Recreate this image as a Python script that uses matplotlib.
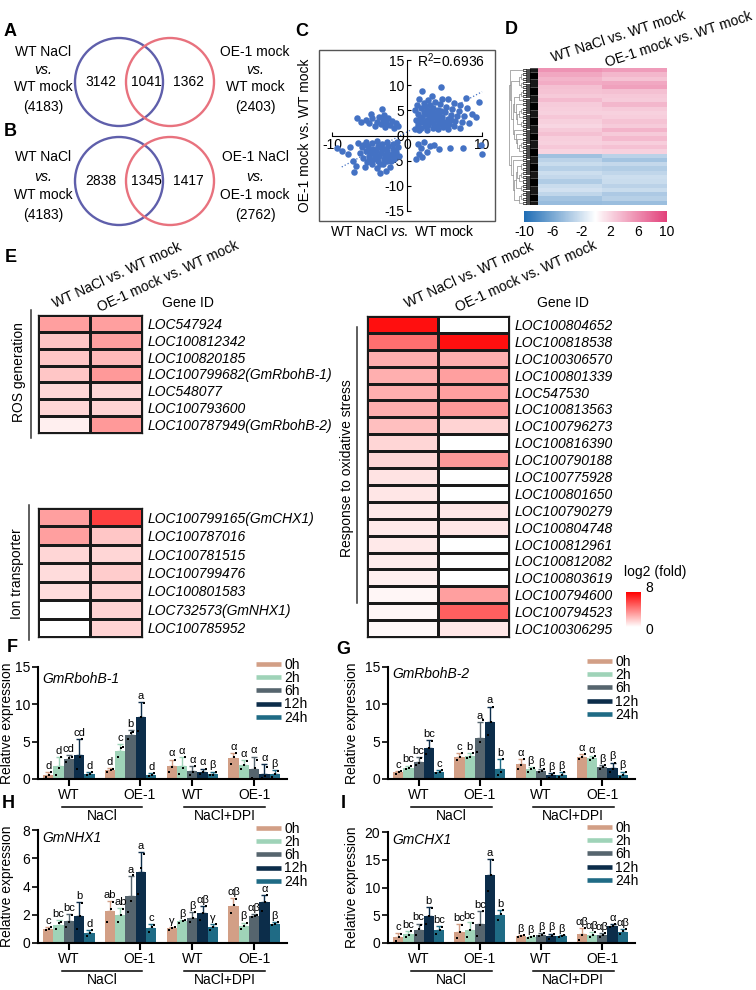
"""Multi-panel figure: Venn overlaps (A, B), fold-change scatter (C), clustered
heatmap (D), gene heatmaps (E) and qRT-PCR time courses (F-I).

Everything is placed in pixel coordinates of a 756x990 canvas (dpi 100).
"""

import matplotlib

matplotlib.use("Agg")
import matplotlib.pyplot as plt
import numpy as np
from matplotlib.cm import ScalarMappable
from matplotlib.colors import LinearSegmentedColormap, Normalize
from matplotlib.lines import Line2D
from matplotlib.patches import Circle, Rectangle
from matplotlib.transforms import blended_transform_factory

plt.rcParams["font.family"] = ["Liberation Sans", "DejaVu Sans"]
plt.rcParams["font.size"] = 10
plt.rcParams["axes.unicode_minus"] = False
plt.rcParams["mathtext.fontset"] = "custom"
plt.rcParams["mathtext.rm"] = "Liberation Sans"
plt.rcParams["mathtext.it"] = "Liberation Sans:italic"

W, H = 756, 990

# ---------------------------------------------------------------- data
# A / B: Venn counts (left only, shared, right only) and set totals
venn_a_counts = [3142, 1041, 1362]
venn_a_totals = [4183, 2403]
venn_a_sets = [("WT NaCl", "WT mock"), ("OE-1 mock", "WT mock")]
venn_b_counts = [2838, 1345, 1417]
venn_b_totals = [4183, 2762]
venn_b_sets = [("WT NaCl", "WT mock"), ("OE-1 NaCl", "OE-1 mock")]

# C: log2 fold change pairs (WT NaCl vs WT mock, OE-1 mock vs WT mock)
pts_up_right = [
    (1.1, 1.2), (1.5, 2.0), (1.2, 3.1), (1.4, 4.2), (1.1, 5.0), (1.3, 6.0), (1.6, 7.2),
    (1.9, 1.4), (2.1, 2.6), (2.0, 3.6), (2.2, 4.6), (1.9, 5.5), (2.3, 6.4), (2.0, 8.8),
    (2.7, 1.1), (2.8, 2.1), (2.6, 3.0), (2.9, 4.0), (2.7, 5.1), (3.0, 6.0), (2.8, 7.0),
    (3.4, 1.5), (3.5, 2.5), (3.3, 3.4), (3.6, 4.5), (3.4, 5.5), (3.7, 6.6), (3.3, 7.8),
    (4.1, 1.2), (4.2, 2.2), (4.0, 3.1), (4.3, 4.0), (4.1, 5.0), (4.4, 6.2), (4.6, 7.2),
    (4.5, 9.6), (4.8, 1.6), (4.9, 2.7), (4.7, 3.6), (5.0, 4.6), (5.2, 5.6), (5.5, 7.3),
    (5.5, 1.3), (5.6, 2.3), (5.4, 3.2), (5.8, 4.1), (6.0, 5.2), (6.3, 6.4), (6.2, 1.8),
    (6.4, 2.9), (6.6, 3.8), (6.9, 4.8), (7.1, 6.1), (7.0, 1.4), (7.3, 2.6), (7.6, 3.9),
    (8.0, 5.4), (8.6, 4.3), (8.3, 2.5), (9.2, 3.6), (9.6, 6.7), (7.8, 7.5),
    (1.6, 1.1), (2.4, 1.8), (3.1, 2.9), (3.9, 3.8), (4.5, 4.8), (2.4, 5.8), (1.7, 3.5),
    (3.1, 4.9), (4.4, 2.6), (5.1, 2.0), (5.9, 3.1), (3.8, 1.9), (1.5, 2.6), (2.5, 4.3),
]
pts_up_left = [
    (-6.6, 3.5), (-6.1, 2.6), (-5.5, 3.0), (-5.0, 2.4), (-4.6, 3.4), (-4.3, 1.8), (-4.0, 2.7),
    (-3.7, 3.6), (-3.5, 2.2), (-3.2, 3.1), (-3.3, 5.3), (-2.9, 1.6), (-2.8, 2.6), (-2.5, 3.4),
    (-2.3, 2.0), (-2.0, 2.9), (-1.7, 1.4), (-1.5, 2.4), (-1.2, 1.8), (-4.8, 4.2), (-3.0, 4.1),
]
pts_low_left = [
    (-6.5, -1.4), (-6.0, -2.3), (-6.3, -3.4), (-5.8, -4.5), (-5.5, -1.2), (-5.2, -2.1),
    (-5.4, -3.0), (-5.1, -4.0), (-5.3, -5.2), (-5.6, -6.2), (-4.7, -1.5), (-4.5, -2.6),
    (-4.8, -3.5), (-4.4, -4.6), (-4.6, -5.7), (-4.0, -1.1), (-3.8, -2.0), (-4.1, -3.0),
    (-3.7, -4.0), (-3.9, -5.1), (-4.0, -6.4), (-3.3, -1.6), (-3.1, -2.6), (-3.4, -3.5),
    (-3.0, -4.6), (-3.2, -5.6), (-2.6, -1.2), (-2.5, -2.1), (-2.7, -3.1), (-2.4, -4.1),
    (-2.6, -5.1), (-2.3, -6.3), (-1.9, -1.6), (-1.8, -2.6), (-2.0, -3.6), (-1.7, -4.6),
    (-1.3, -1.2), (-1.2, -2.2), (-1.4, -3.2), (-1.1, -4.0), (-9.3, -2.4), (-8.7, -3.1),
    (-7.9, -3.7), (-7.6, -2.2), (-7.0, -7.3), (-7.2, -5.0), (-6.8, -6.0), (-2.8, -7.0),
    (-3.6, -7.5), (-5.9, -1.8), (-4.9, -2.9), (-4.2, -4.0), (-3.5, -2.4), (-2.9, -3.8),
    (-2.1, -5.0), (-1.6, -3.9), (-5.0, -4.8), (-3.6, -5.6),
]
pts_low_right = [
    (1.4, -1.6), (1.8, -2.4), (2.2, -1.3), (2.6, -3.2), (3.0, -2.1), (1.6, -3.6), (3.6, -1.8),
    (4.2, -2.6), (5.7, -2.4), (7.5, -2.4), (10.0, -3.6), (1.2, -4.6), (2.0, -4.3), (9.8, -1.8),
]
scatter_r2 = 0.6936
fit_slope, fit_intercept = 0.8, 0.7

# D: clustered log2 fold changes (col 1 WT NaCl vs WT mock, col 2 OE-1 mock vs WT mock)
d_up_wt = [5.5, 4.5, 3.8, 4.2, 3.2, 3.0, 2.6, 3.4, 2.5, 2.4, 2.2, 2.8, 2.3, 2.0, 2.6, 3.2, 2.4, 2.2, 2.7, 2.1]
d_up_oe = [5.0, 3.6, 3.0, 4.4, 4.8, 3.2, 2.7, 2.5, 3.6, 2.6, 2.2, 2.4, 3.0, 2.5, 3.8, 2.6, 3.5, 2.4, 3.1, 2.2]
d_down_wt = [-4.2, -3.0, -2.4, -3.2, -2.2, -2.6, -3.5, -2.4, -2.0, -2.8, -4.0, -4.6]
d_down_oe = [-3.0, -4.0, -2.6, -3.4, -2.8, -2.2, -2.4, -3.0, -2.4, -3.6, -3.2, -4.4]

# E: log2(fold) for selected genes, [WT NaCl vs WT mock, OE-1 mock vs WT mock]
ros_genes = ["LOC547924", "LOC100812342", "LOC100820185", "LOC100799682(GmRbohB-1)",
             "LOC548077", "LOC100793600", "LOC100787949(GmRbohB-2)"]
ros_vals = [[3.0, 3.0], [1.8, 3.0], [1.8, 2.2], [1.8, 3.2], [1.3, 1.3], [1.3, 1.4], [0.5, 3.2]]
ion_genes = ["LOC100799165(GmCHX1)", "LOC100787016", "LOC100781515", "LOC100799476",
             "LOC100801583", "LOC732573(GmNHX1)", "LOC100785952"]
ion_vals = [[3.0, 6.0], [3.0, 1.8], [1.3, 1.3], [1.1, 1.6], [1.1, 1.4], [0.0, 1.4], [0.0, 1.4]]
ox_genes = ["LOC100804652", "LOC100818538", "LOC100306570", "LOC100801339", "LOC547530",
            "LOC100813563", "LOC100796273", "LOC100816390", "LOC100790188", "LOC100775928",
            "LOC100801650", "LOC100790279", "LOC100804748", "LOC100812961", "LOC100812082",
            "LOC100803619", "LOC100794600", "LOC100794523", "LOC100306295"]
ox_vals = [[7.5, 0.0], [4.5, 7.5], [2.5, 2.5], [2.5, 3.0], [2.5, 3.0], [2.5, 3.2], [2.0, 1.4],
           [1.3, 0.0], [1.3, 3.2], [0.9, 0.0], [0.8, 0.0], [0.7, 0.8], [0.7, 0.8], [0.7, 0.0],
           [0.6, 0.0], [0.5, 0.0], [0.3, 3.0], [0.3, 5.0], [0.2, 0.8]]

# F-I: relative expression, rows = WT NaCl, OE-1 NaCl, WT NaCl+DPI, OE-1 NaCl+DPI
times = ["0h", "2h", "6h", "12h", "24h"]
genotypes = ["WT", "OE-1", "WT", "OE-1"]
treatments = ["NaCl", "NaCl+DPI"]

rbohb1_mean = [[0.6, 1.7, 2.7, 3.2, 0.7], [1.2, 3.8, 5.9, 8.3, 0.6],
               [1.7, 1.7, 1.1, 1.0, 0.7], [2.8, 1.9, 1.4, 0.7, 0.7]]
rbohb1_sd = [[0.3, 1.2, 0.5, 2.2, 0.2], [0.3, 0.9, 0.6, 2.0, 0.2],
             [0.9, 1.2, 0.6, 0.4, 0.3], [0.7, 0.6, 1.6, 1.3, 0.5]]
rbohb1_reps = [[[0.3, 0.6, 0.9], [0.6, 1.5, 3.0], [2.3, 2.8, 3.0], [1.3, 3.0, 5.3], [0.5, 0.7, 0.9]],
               [[1.0, 1.2, 1.4], [2.9, 4.2, 4.3], [5.3, 6.1, 6.3], [6.4, 8.3, 10.2], [0.4, 0.6, 0.8]],
               [[0.9, 1.6, 2.6], [0.7, 1.5, 2.9], [0.6, 1.0, 1.7], [0.7, 1.0, 1.3], [0.5, 0.6, 1.0]],
               [[2.0, 2.9, 3.5], [1.4, 1.9, 2.4], [0.2, 1.5, 2.5], [0.1, 0.4, 1.6], [0.3, 0.7, 1.1]]]
rbohb1_letters = [["d", "d", "cd", "cd", "d"], ["d", "c", "b", "a", "d"],
                  ["α", "α", "α", "α", "β"], ["α", "α", "α", "α", "β"]]

rbohb2_mean = [[0.9, 1.5, 2.3, 4.2, 1.0], [3.0, 3.1, 5.5, 7.7, 1.4],
               [2.0, 1.3, 1.1, 0.5, 0.6], [3.0, 2.8, 1.6, 1.5, 0.6]]
rbohb2_sd = [[0.2, 0.3, 0.6, 1.0, 0.2], [0.5, 0.4, 2.1, 2.0, 1.3],
             [0.7, 0.3, 0.2, 0.3, 0.3], [0.3, 0.3, 0.3, 0.7, 0.4]]
rbohb2_reps = [[[0.7, 0.9, 1.1], [1.3, 1.5, 1.7], [1.9, 2.2, 2.8], [3.4, 4.1, 5.1], [0.8, 1.0, 1.2]],
               [[2.6, 2.9, 3.5], [2.8, 3.0, 3.5], [3.6, 5.0, 7.9], [5.9, 7.6, 9.6], [0.5, 1.0, 2.7]],
               [[1.4, 1.9, 2.7], [1.0, 1.4, 1.5], [0.9, 1.1, 1.3], [0.2, 0.5, 0.8], [0.3, 0.6, 0.9]],
               [[2.7, 3.0, 3.3], [2.5, 2.8, 3.1], [1.3, 1.6, 1.9], [0.9, 1.4, 2.2], [0.3, 0.5, 1.0]]]
rbohb2_letters = [["c", "bc", "bc", "bc", "c"], ["c", "b", "a", "a", "b"],
                  ["α", "β", "β", "β", "β"], ["α", "α", "β", "β", "β"]]

nhx1_mean = [[1.0, 1.3, 1.55, 1.9, 0.7], [2.25, 1.95, 3.35, 5.0, 1.05],
             [1.05, 1.55, 1.8, 2.1, 1.1], [2.65, 1.2, 1.93, 2.87, 1.36]]
nhx1_sd = [[0.1, 0.3, 0.5, 1.0, 0.2], [0.7, 0.55, 1.4, 1.45, 0.3],
           [0.1, 0.1, 0.4, 0.5, 0.25], [0.55, 0.25, 0.1, 0.55, 0.15]]
nhx1_reps = [[[0.9, 1.0, 1.1], [1.0, 1.4, 1.5], [1.1, 1.5, 2.0], [1.0, 1.9, 2.8], [0.5, 0.7, 0.9]],
             [[1.5, 2.4, 2.9], [1.5, 2.0, 2.4], [2.2, 3.0, 4.8], [3.5, 5.3, 6.3], [0.8, 1.1, 1.3]],
             [[0.95, 1.05, 1.15], [1.45, 1.55, 1.65], [1.5, 1.8, 2.2], [1.6, 2.1, 2.6], [0.9, 1.1, 1.35]],
             [[2.1, 2.7, 3.1], [1.0, 1.2, 1.45], [1.85, 1.93, 2.0], [2.3, 2.9, 3.4], [1.25, 1.35, 1.5]]]
nhx1_letters = [["c", "bc", "bc", "b", "d"], ["ab", "ab", "a", "a", "c"],
                ["γ", "β", "β", "αβ", "γ"], ["αβ", "β", "αβ", "α", "β"]]

chx1_mean = [[1.0, 1.55, 2.4, 4.9, 2.3], [2.05, 2.3, 3.5, 12.2, 5.1],
             [1.2, 1.05, 1.5, 1.2, 1.25], [1.6, 1.45, 1.45, 3.1, 2.05]]
chx1_sd = [[0.8, 0.6, 1.1, 1.5, 0.7], [1.3, 1.5, 2.3, 2.9, 0.9],
           [0.2, 0.15, 0.3, 0.5, 0.2], [1.1, 0.5, 0.4, 0.3, 0.5]]
chx1_reps = [[[0.3, 1.0, 1.7], [1.0, 1.5, 2.1], [1.4, 2.5, 3.3], [3.5, 4.8, 6.3], [1.7, 2.3, 2.9]],
             [[0.9, 2.0, 3.2], [1.0, 2.3, 3.6], [1.3, 3.3, 5.8], [9.4, 12.3, 14.9], [4.2, 5.2, 6.0]],
             [[1.0, 1.2, 1.4], [0.9, 1.05, 1.2], [1.2, 1.5, 1.8], [0.8, 1.2, 1.7], [1.05, 1.25, 1.45]],
             [[0.6, 1.5, 2.7], [1.0, 1.5, 1.9], [1.1, 1.4, 1.8], [2.8, 3.1, 3.4], [1.6, 2.1, 2.5]]]
chx1_letters = [["c", "bc", "bc", "b", "bc"], ["bc", "bc", "bc", "a", "b"],
                ["β", "β", "β", "β", "β"], ["αβ", "αβ", "αβ", "α", "αβ"]]

# ---------------------------------------------------------------- styles
VENN_BLUE, VENN_RED = "#5f5fab", "#e8727e"
DOT_BLUE = "#4472c4"
TIME_COLORS = ["#d29f86", "#9fd3b8", "#56656e", "#0c2d4a", "#1f6b85"]
REP_OFFSETS = [-0.25, 0.05, 0.28]  # horizontal spread of replicate dots within a bar
diff_cmap = LinearSegmentedColormap.from_list(
    "bwp", [(0.0, "#1f6db5"), (0.5, "#ffffff"), (0.55, "#fbe9ef"), (1.0, "#e2407a")])
fold_cmap = LinearSegmentedColormap.from_list("wr", ["#ffffff", "#ff0000"])


def px_box(l, t, r, b):
    return [l / W, 1 - b / H, (r - l) / W, (b - t) / H]


def draw_venn(ov, cy, counts, totals, sets, text_ys):
    ov.add_patch(Circle((119, cy), 44, fill=False, ec=VENN_BLUE, lw=1.7))
    ov.add_patch(Circle((170, cy), 44, fill=False, ec=VENN_RED, lw=1.7))
    for x, n in zip((101, 146, 188), counts):
        ov.text(x, cy, str(n), ha="center", va="center", fontsize=10)
    for x, (a, b), tot in zip((43, 255), sets, totals):
        rows = [(a, "normal"), ("vs.", "italic"), (b, "normal"), (f"({tot})", "normal")]
        for y, (s, st) in zip(text_ys, rows):
            ov.text(x, y, s, ha="center", va="center", fontsize=10, style=st)


def draw_scatter(fig):
    ax = fig.add_axes(px_box(319, 50, 495, 221))
    pts = np.array(pts_up_right + pts_up_left + pts_low_left + pts_low_right)
    ax.scatter(pts[:, 0], pts[:, 1], s=22, color=DOT_BLUE, lw=0, zorder=3)
    xs = np.array([-8.7, 10.0])
    ax.plot(xs, fit_slope * xs + fit_intercept, ls=":", color=DOT_BLUE, lw=0.9)
    ax.set_xlim(-11.73, 11.73)
    ax.set_ylim(-17, 17)
    for side in ("top", "right"):
        ax.spines[side].set_visible(False)
    ax.spines["left"].set_position(("data", 0))
    ax.spines["bottom"].set_position(("data", 0))
    ax.spines["left"].set_bounds(-15, 15)
    ax.spines["bottom"].set_bounds(-10, 10)
    ax.set_xticks([-10, 0, 10])
    ax.set_yticks([-15, -10, -5, 0, 5, 10, 15])
    ax.tick_params(direction="in", length=3, labelsize=10, pad=2)
    ax.add_patch(Rectangle((0, 0), 1, 1, transform=ax.transAxes, fill=False,
                           ec="#555555", lw=1.0, clip_on=False))
    ax.text(0.556, 0.935, f"R$^2$={scatter_r2}", transform=ax.transAxes, fontsize=10, va="center")
    return ax


def draw_dendrogram(ax, rows, fan=8):
    leaves = np.repeat(np.asarray(rows, dtype=float), fan, axis=0)
    segs = []

    def split(lo, hi):
        if hi - lo == 1:
            return lo + 0.5, 0.0
        d = np.linalg.norm(np.diff(leaves[lo:hi], axis=0), axis=1)
        k = lo + 1 + int(np.argmax(d)) if d.max() > 0 else (lo + hi) // 2
        y1, h1 = split(lo, k)
        y2, h2 = split(k, hi)
        h = max(h1, h2) + 1.0
        segs.append((h1, h2, h, y1, y2))
        return (y1 + y2) / 2, h

    _, top = split(0, len(leaves))
    for h1, h2, h, y1, y2 in segs:
        xs = np.sqrt([h1, h, h, h2])
        col = "black" if h <= np.log2(fan) else "#8c8c8c"
        ax.plot(xs, [y1, y1, y2, y2], color=col, lw=0.5)
    ax.set_xlim(np.sqrt(top) * 1.02, 0)
    ax.set_ylim(len(leaves), 0)
    ax.axis("off")


def draw_cluster_heatmap(fig):
    rows = np.column_stack([d_up_wt + d_down_wt, d_up_oe + d_down_oe])
    ax = fig.add_axes(px_box(538, 68, 667, 205))
    ax.imshow(rows, aspect="auto", cmap=diff_cmap, vmin=-10, vmax=10, interpolation="nearest")
    ax.axis("off")
    draw_dendrogram(fig.add_axes(px_box(508, 68, 538, 205)), rows)
    cax = fig.add_axes(px_box(524, 211, 667, 222))
    cb = fig.colorbar(ScalarMappable(Normalize(-10, 10), diff_cmap), cax=cax, orientation="horizontal")
    cb.set_ticks([-10, -6, -2, 2, 6, 10])
    cb.outline.set_visible(False)
    cax.tick_params(length=0, labelsize=10, pad=2)


def gene_heatmap(fig, rect, genes, vals):
    ax = fig.add_axes(px_box(*rect))
    ax.pcolormesh(np.asarray(vals), cmap=fold_cmap, vmin=0, vmax=8,
                  edgecolors="#1a1a1a", linewidth=0.9)
    ax.set_xlim(0, 2)
    ax.set_ylim(len(genes), 0)
    ax.set_xticks([])
    ax.yaxis.tick_right()
    ax.set_yticks(np.arange(len(genes)) + 0.5)
    ax.set_yticklabels(genes, fontstyle="italic", fontsize=10)
    ax.tick_params(axis="y", length=0, pad=4)
    for s in ax.spines.values():
        s.set_linewidth(0.9)
        s.set_color("#1a1a1a")
    return ax


def bar_panel(fig, rect, gene, means, sds, reps, letters, ymax, ystep, tick_pos,
              legend_xy, ylabel_x, gene_y):
    l, t, r, b = rect
    ax = fig.add_axes(px_box(l, t, r, b))
    means, sds = np.asarray(means), np.asarray(sds)
    for g in range(len(genotypes)):
        for i, c in enumerate(TIME_COLORS):
            x = 6 * g + i
            ax.bar(x, means[g, i], width=1.0, color=c, zorder=2)
            ax.errorbar(x, means[g, i], yerr=[[0], [sds[g, i]]], fmt="none", ecolor=c,
                        elinewidth=1.0, capsize=2.2, capthick=1.0, zorder=2)
            ax.scatter(x + np.array(REP_OFFSETS), reps[g][i], s=3.5, marker="s",
                       color="black", lw=0, zorder=3, clip_on=False)
            ax.text(x, means[g, i] + sds[g, i] + 0.01 * ymax, letters[g][i],
                    ha="center", va="bottom", fontsize=8)
    ax.set_xlim(-1, 23.2)
    ax.set_ylim(0, ymax)
    ax.set_yticks(np.arange(0, ymax + 0.1, ystep))
    ax.set_xticks(tick_pos)
    ax.set_xticklabels(genotypes)
    for side in ("top", "right"):
        ax.spines[side].set_visible(False)
    for side in ("left", "bottom"):
        ax.spines[side].set_linewidth(1.5)
    ax.tick_params(axis="y", length=4, width=1.2, labelsize=10, pad=1.5)
    ax.tick_params(axis="x", length=5, width=1.5, labelsize=10, pad=1.5)
    ax.set_ylabel("Relative expression", fontsize=10)
    ax.yaxis.set_label_coords((ylabel_x - l) / (r - l), 0.5)
    ax.text(0.016, gene_y, gene, transform=ax.transAxes, style="italic", fontsize=10, va="center")

    # treatment brackets under the genotype labels
    hpx = b - t
    tr = blended_transform_factory(ax.transData, ax.transAxes)
    for (x0, x1), name in zip([(1.3, 9.15), (13.2, 21.1)], treatments):
        ax.plot([x0, x1], [-28 / hpx] * 2, color="black", lw=1.1, transform=tr, clip_on=False)
        ax.text((x0 + x1) / 2, -37 / hpx, name, transform=tr, ha="center", va="center", fontsize=10)

    handles = [Line2D([], [], color=c, lw=3.3, solid_capstyle="butt") for c in TIME_COLORS]
    ax.legend(handles, times, loc="upper left", bbox_to_anchor=(legend_xy[0] / W, 1 - legend_xy[1] / H),
              bbox_transform=fig.transFigure, frameon=False, handlelength=1.8,
              handletextpad=0.25, labelspacing=-0.06, borderpad=0, borderaxespad=0, fontsize=10)
    return ax


def main():
    fig = plt.figure(figsize=(W / 100, H / 100), dpi=100)
    ov = fig.add_axes([0, 0, 1, 1])
    ov.set_xlim(0, W)
    ov.set_ylim(H, 0)
    ov.axis("off")

    # panel letters
    for s, x, y in [("A", 10, 31), ("B", 10, 132), ("C", 302, 31), ("D", 511, 29), ("E", 11, 258),
                    ("F", 12, 647), ("G", 343, 650), ("H", 8, 804), ("I", 343, 804)]:
        ov.text(x, y, s, fontsize=13, fontweight="bold", ha="center", va="center")

    # A, B
    draw_venn(ov, 82, venn_a_counts, venn_a_totals, venn_a_sets, (52, 70, 87, 107))
    draw_venn(ov, 181, venn_b_counts, venn_b_totals, venn_b_sets, (157, 177, 195, 215))

    # C
    draw_scatter(fig)
    ov.text(305, 135, "OE-1 mock vs. WT mock", rotation=90, ha="center", va="center", fontsize=10)
    ov.text(402, 232, r"WT NaCl $\mathit{vs.}$ WT mock", ha="center", va="center", fontsize=10)

    # D
    draw_cluster_heatmap(fig)
    for s, x, y in [("WT NaCl vs. WT mock", 553, 62), ("OE-1 mock vs. WT mock", 607, 67)]:
        ov.text(x, y, s, rotation=18, rotation_mode="anchor", ha="left", va="baseline", fontsize=10)

    # E
    gene_heatmap(fig, (38, 315, 142, 433), ros_genes, ros_vals)
    gene_heatmap(fig, (38, 508, 142, 637), ion_genes, ion_vals)
    gene_heatmap(fig, (367, 316, 509, 637), ox_genes, ox_vals)
    for s, x, y in [("WT NaCl vs. WT mock", 55, 308), ("OE-1 mock vs. WT mock", 100, 312),
                    ("WT NaCl vs. WT mock", 407, 308), ("OE-1 mock vs. WT mock", 458, 312)]:
        ov.text(x, y, s, rotation=24.5, rotation_mode="anchor", ha="left", va="baseline", fontsize=10)
    for x in (188, 563):
        ov.text(x, 303, "Gene ID", ha="center", va="center", fontsize=10)
    for x, y0, y1, name, tx, ty in [(31, 310, 438, "ROS generation", 19, 372),
                                     (29, 505, 640, "Ion transporter", 17, 574),
                                     (357, 327, 603, "Response to oxidative stress", 347, 468)]:
        ov.plot([x, x], [y0, y1], color="#333333", lw=1.1)
        ov.text(tx, ty, name, rotation=90, ha="center", va="center", fontsize=10)
    cax = fig.add_axes(px_box(626, 592, 641, 627))
    cb = fig.colorbar(ScalarMappable(Normalize(0, 8), fold_cmap), cax=cax)
    cb.set_ticks([])
    cb.outline.set_visible(False)
    ov.text(655, 572, "log2 (fold)", ha="center", va="center", fontsize=10)
    ov.text(645, 588, "8", ha="left", va="center", fontsize=10)
    ov.text(645, 630, "0", ha="left", va="center", fontsize=10)

    # F-I
    bar_panel(fig, (38, 667, 287, 779), "GmRbohB-1", rbohb1_mean, rbohb1_sd, rbohb1_reps,
              rbohb1_letters, 15, 5, [2, 8.9, 14, 20], (256, 658), 14, 0.89)
    bar_panel(fig, (388, 667, 635, 779), "GmRbohB-2", rbohb2_mean, rbohb2_sd, rbohb2_reps,
              rbohb2_letters, 15, 5, [2, 8, 14, 20], (587, 655), 359, 0.94)
    bar_panel(fig, (38, 830, 287, 943), "GmNHX1", nhx1_mean, nhx1_sd, nhx1_reps,
              nhx1_letters, 8, 2, [2, 8.9, 14, 20], (256, 822), 14, 0.93)
    bar_panel(fig, (388, 832, 635, 943), "GmCHX1", chx1_mean, chx1_sd, chx1_reps,
              chx1_letters, 20, 5, [2, 8, 14, 20], (587, 821), 359, 0.93)

    fig.savefig("out.png", dpi=100)


if __name__ == "__main__":
    main()
